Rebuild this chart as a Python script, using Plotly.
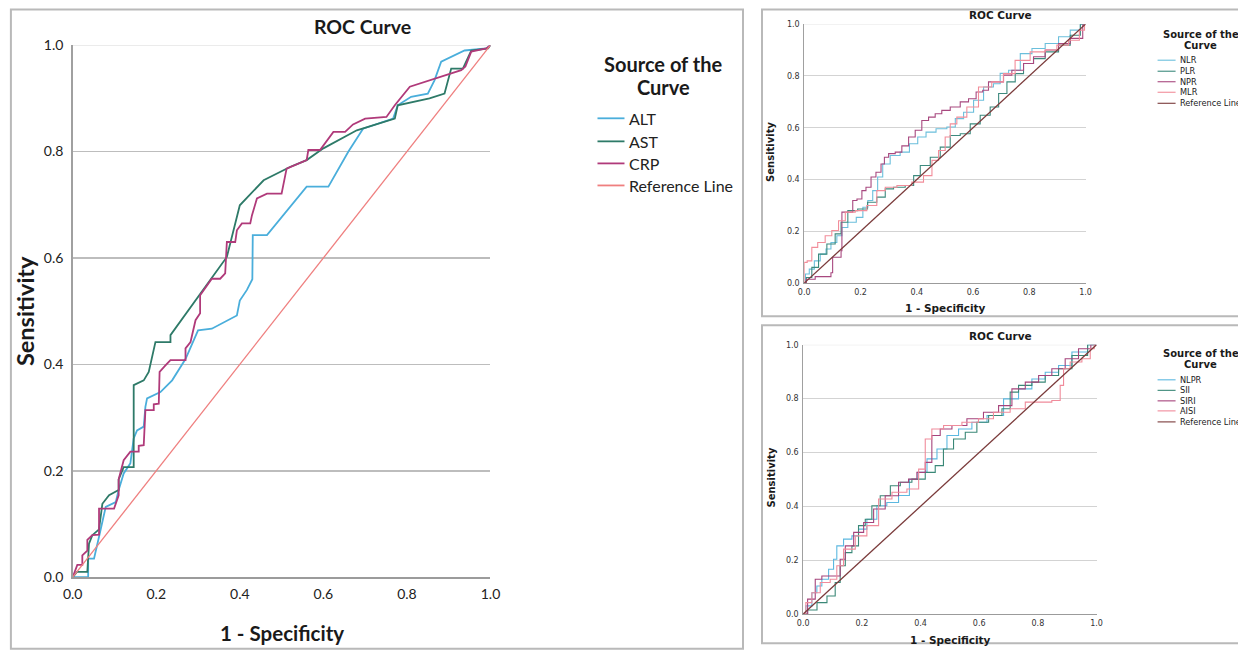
import plotly.graph_objects as go

W, H = 1238, 651

# ---------------- Panel A (left) ----------------
A_names = ["ALT", "AST", "CRP", "Reference Line"]
A_colors = ["#4aaedb", "#2e7a68", "#b03a7a", "#ef7f7f"]
ALT_x = [0, 0.037, 0.037, 0.051, 0.063, 0.071, 0.079, 0.103, 0.11, 0.122, 0.138, 0.146, 0.154, 0.17, 0.174, 0.178, 0.21, 0.238, 0.27, 0.30, 0.333, 0.393, 0.40, 0.417, 0.43, 0.431, 0.465, 0.56, 0.612, 0.66, 0.695, 0.767, 0.778, 0.81, 0.85, 0.866, 0.882, 0.938, 0.99, 1.0]
ALT_y = [0, 0, 0.035, 0.035, 0.076, 0.107, 0.132, 0.141, 0.164, 0.195, 0.214, 0.261, 0.276, 0.283, 0.32, 0.336, 0.348, 0.37, 0.41, 0.464, 0.467, 0.492, 0.52, 0.54, 0.56, 0.643, 0.643, 0.734, 0.734, 0.80, 0.843, 0.862, 0.887, 0.903, 0.909, 0.934, 0.969, 0.99, 0.994, 1.0]
AST_x = [0, 0.01, 0.035, 0.039, 0.047, 0.063, 0.071, 0.087, 0.11, 0.11, 0.122, 0.146, 0.146, 0.17, 0.182, 0.198, 0.234, 0.234, 0.369, 0.40, 0.457, 0.52, 0.56, 0.60, 0.68, 0.759, 0.771, 0.778, 0.854, 0.89, 0.906, 0.934, 0.954, 0.994, 1.0]
AST_y = [0, 0.01, 0.01, 0.063, 0.079, 0.09, 0.138, 0.154, 0.164, 0.184, 0.207, 0.207, 0.361, 0.37, 0.386, 0.442, 0.442, 0.455, 0.602, 0.699, 0.746, 0.771, 0.784, 0.806, 0.84, 0.859, 0.862, 0.887, 0.90, 0.909, 0.956, 0.956, 0.99, 0.994, 1.0]
CRP_x = [0, 0.011, 0.023, 0.023, 0.035, 0.035, 0.047, 0.063, 0.063, 0.099, 0.11, 0.11, 0.122, 0.138, 0.158, 0.158, 0.17, 0.174, 0.194, 0.194, 0.206, 0.208, 0.222, 0.234, 0.27, 0.27, 0.282, 0.294, 0.305, 0.305, 0.333, 0.353, 0.365, 0.369, 0.389, 0.393, 0.405, 0.425, 0.429, 0.441, 0.465, 0.50, 0.512, 0.56, 0.564, 0.592, 0.624, 0.652, 0.671, 0.70, 0.751, 0.771, 0.807, 0.894, 0.93, 0.94, 0.954, 0.99, 1.0]
CRP_y = [0, 0.023, 0.023, 0.041, 0.05, 0.07, 0.079, 0.08, 0.129, 0.129, 0.154, 0.184, 0.22, 0.236, 0.236, 0.247, 0.248, 0.314, 0.314, 0.325, 0.326, 0.386, 0.398, 0.408, 0.408, 0.43, 0.442, 0.483, 0.496, 0.53, 0.561, 0.561, 0.571, 0.63, 0.63, 0.652, 0.665, 0.665, 0.68, 0.712, 0.721, 0.721, 0.768, 0.784, 0.803, 0.803, 0.837, 0.837, 0.851, 0.862, 0.865, 0.887, 0.922, 0.944, 0.953, 0.96, 0.988, 0.994, 1.0]
REF_x = [0, 1]
REF_y = [0, 1]

# ---------------- Panel B (top right) ----------------
B_names = ["NLR", "PLR", "NPR", "MLR", "Reference Line"]
B_colors = ["#6bbfdc", "#3d8a7e", "#a8487f", "#f28d9a", "#7a3a3a"]
NLR_x = [0, 0.009, 0.027, 0.045, 0.069, 0.086, 0.104, 0.128, 0.14, 0.17, 0.2, 0.217, 0.235, 0.252, 0.27, 0.288, 0.323, 0.359, 0.389, 0.418, 0.448, 0.489, 0.525, 0.549, 0.584, 0.62, 0.655, 0.69, 0.703, 0.75, 0.786, 0.833, 0.88, 0.928, 0.963, 1.0]
NLR_y = [0, 0.035, 0.054, 0.086, 0.112, 0.132, 0.157, 0.183, 0.215, 0.235, 0.254, 0.293, 0.319, 0.357, 0.41, 0.46, 0.493, 0.506, 0.538, 0.564, 0.583, 0.596, 0.603, 0.635, 0.66, 0.706, 0.757, 0.77, 0.81, 0.822, 0.886, 0.906, 0.925, 0.951, 0.977, 1.0]
PLR_x = [0, 0.015, 0.039, 0.063, 0.098, 0.122, 0.14, 0.17, 0.21, 0.24, 0.276, 0.3, 0.335, 0.383, 0.395, 0.43, 0.466, 0.501, 0.537, 0.572, 0.608, 0.643, 0.679, 0.703, 0.738, 0.762, 0.797, 0.833, 0.88, 0.928, 0.963, 1.0]
PLR_y = [0, 0.022, 0.061, 0.112, 0.151, 0.19, 0.235, 0.28, 0.286, 0.312, 0.332, 0.364, 0.37, 0.377, 0.415, 0.454, 0.486, 0.525, 0.57, 0.577, 0.615, 0.648, 0.68, 0.732, 0.777, 0.809, 0.848, 0.867, 0.893, 0.919, 0.957, 1.0]
NPR_x = [0, 0.015, 0.033, 0.045, 0.092, 0.098, 0.104, 0.128, 0.134, 0.134, 0.17, 0.175, 0.2, 0.21, 0.229, 0.246, 0.264, 0.282, 0.288, 0.312, 0.335, 0.359, 0.383, 0.406, 0.43, 0.454, 0.477, 0.501, 0.537, 0.572, 0.596, 0.626, 0.643, 0.667, 0.703, 0.714, 0.762, 0.797, 0.833, 0.88, 0.928, 0.963, 0.987, 0.993, 1.0]
NPR_y = [0, 0.015, 0.015, 0.025, 0.025, 0.04, 0.10, 0.10, 0.125, 0.274, 0.274, 0.319, 0.325, 0.357, 0.37, 0.41, 0.428, 0.46, 0.486, 0.50, 0.506, 0.53, 0.564, 0.59, 0.628, 0.641, 0.654, 0.667, 0.68, 0.70, 0.712, 0.738, 0.745, 0.777, 0.777, 0.803, 0.822, 0.848, 0.874, 0.90, 0.925, 0.945, 0.945, 0.997, 1.0]
MLR_x = [0, 0, 0.021, 0.033, 0.063, 0.086, 0.11, 0.134, 0.158, 0.205, 0.24, 0.276, 0.3, 0.359, 0.406, 0.442, 0.466, 0.489, 0.513, 0.525, 0.56, 0.596, 0.643, 0.69, 0.726, 0.773, 0.833, 0.88, 0.916, 0.963, 0.993, 1.0]
MLR_y = [0, 0.08, 0.086, 0.138, 0.157, 0.183, 0.203, 0.241, 0.274, 0.28, 0.30, 0.357, 0.37, 0.377, 0.39, 0.415, 0.474, 0.512, 0.564, 0.615, 0.641, 0.68, 0.757, 0.777, 0.809, 0.86, 0.893, 0.9, 0.919, 0.938, 0.977, 1.0]

# ---------------- Panel C (bottom right) ----------------
C_names = ["NLPR", "SII", "SIRI", "AISI", "Reference Line"]
C_colors = ["#5cb8e0", "#3a8877", "#a5437b", "#f08b9b", "#7a3a3a"]
NLPR_x = [0, 0.018, 0.041, 0.052, 0.075, 0.098, 0.109, 0.12, 0.155, 0.177, 0.2, 0.234, 0.268, 0.302, 0.348, 0.376, 0.405, 0.439, 0.473, 0.507, 0.552, 0.598, 0.655, 0.711, 0.757, 0.802, 0.848, 0.893, 0.939, 1.0]
NLPR_y = [0, 0.03, 0.079, 0.104, 0.129, 0.166, 0.203, 0.253, 0.278, 0.29, 0.315, 0.352, 0.402, 0.414, 0.44, 0.50, 0.526, 0.576, 0.613, 0.663, 0.687, 0.712, 0.737, 0.799, 0.836, 0.873, 0.898, 0.923, 0.973, 1.0]
SII_x = [0, 0.03, 0.064, 0.098, 0.12, 0.132, 0.155, 0.177, 0.2, 0.223, 0.245, 0.28, 0.314, 0.348, 0.393, 0.439, 0.461, 0.495, 0.53, 0.575, 0.609, 0.655, 0.7, 0.711, 0.757, 0.802, 0.848, 0.893, 0.939, 1.0]
SII_y = [0, 0.015, 0.042, 0.067, 0.117, 0.179, 0.228, 0.253, 0.328, 0.352, 0.402, 0.439, 0.476, 0.489, 0.501, 0.526, 0.551, 0.613, 0.65, 0.675, 0.712, 0.737, 0.762, 0.824, 0.849, 0.861, 0.886, 0.911, 0.96, 1.0]
SIRI_x = [0, 0.03, 0.052, 0.075, 0.12, 0.132, 0.155, 0.189, 0.223, 0.257, 0.302, 0.348, 0.37, 0.405, 0.427, 0.45, 0.484, 0.53, 0.586, 0.643, 0.689, 0.734, 0.78, 0.825, 0.87, 0.916, 0.961, 1.0]
SIRI_y = [0, 0.055, 0.129, 0.141, 0.141, 0.203, 0.253, 0.303, 0.34, 0.39, 0.439, 0.489, 0.501, 0.526, 0.563, 0.663, 0.687, 0.70, 0.725, 0.749, 0.774, 0.836, 0.861, 0.886, 0.911, 0.948, 0.985, 1.0]
AISI_x = [0, 0.018, 0.041, 0.075, 0.109, 0.12, 0.155, 0.2, 0.234, 0.28, 0.325, 0.382, 0.405, 0.427, 0.45, 0.507, 0.575, 0.62, 0.677, 0.734, 0.78, 0.825, 0.87, 0.882, 0.893, 0.927, 0.973, 0.984, 1.0]
AISI_y = [0, 0.042, 0.079, 0.117, 0.129, 0.179, 0.241, 0.29, 0.328, 0.427, 0.452, 0.464, 0.538, 0.65, 0.687, 0.70, 0.712, 0.725, 0.749, 0.762, 0.787, 0.787, 0.793, 0.849, 0.911, 0.936, 0.948, 0.985, 1.0]

ticks = [0, 0.2, 0.4, 0.6, 0.8, 1.0]
tick_text = ["0.0", "0.2", "0.4", "0.6", "0.8", "1.0"]

BIG = "Lato, Liberation Sans, sans-serif"
SANS = "DejaVu Sans, Verdana, sans-serif"

# the photographed page is inset slightly; map target pixel positions into figure space
OX, SX, OY, SY = 9.6, 0.9837, 8.9, 0.972


def fx(p):
    return ((p - OX) / SX) / W


def fy(p):
    return 1 - ((p - OY) / SY) / H


fig = go.Figure()

panels = [
    dict(ax="", names=A_names, colors=A_colors,
         data=[(ALT_x, ALT_y), (AST_x, AST_y), (CRP_x, CRP_y), (REF_x, REF_y)],
         shape="linear", width=1.8),
    dict(ax="2", names=B_names, colors=B_colors,
         data=[(NLR_x, NLR_y), (PLR_x, PLR_y), (NPR_x, NPR_y), (MLR_x, MLR_y), (REF_x, REF_y)],
         shape="hvh", width=1.1),
    dict(ax="3", names=C_names, colors=C_colors,
         data=[(NLPR_x, NLPR_y), (SII_x, SII_y), (SIRI_x, SIRI_y), (AISI_x, AISI_y), (REF_x, REF_y)],
         shape="hvh", width=1.1),
]

for p in panels:
    n = len(p["names"])
    for i, (name, col, (xs, ys)) in enumerate(zip(p["names"], p["colors"], p["data"])):
        fig.add_trace(go.Scatter(
            x=xs, y=ys, mode="lines", name=name, showlegend=False,
            line=dict(color=col, width=p["width"] if i < n - 1 else 1.3,
                      shape=p["shape"] if i < n - 1 else "linear"),
            xaxis="x" + p["ax"], yaxis="y" + p["ax"], cliponaxis=False,
            hoverinfo="skip"))

# axis geometry (target pixels)
geo = {
    "": dict(x0=72.3, x1=490.0, y0=576.0, y1=45.0),
    "2": dict(x0=803.7, x1=1085.0, y0=282.5, y1=24.0),
    "3": dict(x0=802.7, x1=1096.0, y0=612.7, y1=344.0),
}

layout = dict(width=W, height=H, margin=dict(l=0, r=0, t=0, b=0),
              paper_bgcolor="white", plot_bgcolor="white", showlegend=False)

shapes = []
for key, g in geo.items():
    big = key == ""
    tf = dict(family=BIG if big else SANS, size=14 if big else 8, color="#222" if big else "#333")
    layout["xaxis" + key] = dict(
        domain=[fx(g["x0"]), fx(g["x1"])], range=[0, 1], anchor="y" + key,
        tickvals=ticks, ticktext=tick_text, showgrid=False, zeroline=False,
        showline=True, linecolor="#9b9b9b", linewidth=2 if big else 1.2,
        ticks="", tickfont=tf, ticklabelstandoff=3 if big else 1, fixedrange=True)
    layout["yaxis" + key] = dict(
        domain=[fy(g["y0"]), fy(g["y1"])], range=[0, 1], anchor="x" + key,
        tickvals=ticks, ticktext=tick_text, showgrid=True,
        gridcolor="#bdbdbd" if big else "#d3d3d3", gridwidth=1.5 if big else 1,
        zeroline=False, showline=True, linecolor="#a0a0a0", linewidth=1.5 if big else 1,
        ticks="", tickfont=tf, ticklabelstandoff=5 if big else 2, fixedrange=True)
    shapes.append(dict(type="line", xref="x" + key + " domain" if key else "x domain",
                       yref="y" + key, x0=0, x1=1, y0=1, y1=1, layer="below",
                       line=dict(color="#e4e4e4", width=1.5 if big else 1)))

annotations = []

# frames around each chart
for (x0, y0, x1, y1) in [(10.5, 9.5, 742.5, 647.5), (761.5, 9.5, 1260, 315.5), (761.5, 324.5, 1260, 642)]:
    shapes.append(dict(type="rect", xref="paper", yref="paper",
                       x0=fx(x0), x1=fx(x1), y0=fy(y1), y1=fy(y0),
                       line=dict(color="#b9b9b9", width=2), fillcolor="rgba(0,0,0,0)"))


def text(x, y, s, size, fam, bold=False, angle=0, xanchor="center", color="#1a1a1a"):
    annotations.append(dict(
        x=fx(x), y=fy(y), xref="paper", yref="paper", text=("<b>%s</b>" % s) if bold else s,
        showarrow=False, xanchor=xanchor, yanchor="middle", textangle=angle,
        font=dict(family=fam, size=size, color=color)))


# Panel A labels
text(362, 26, "ROC Curve", 19.5, BIG, bold=True)
text(24, 310, "Sensitivity", 23.5, BIG, bold=True, angle=-90)
text(282, 632, "1 - Specificity", 20.5, BIG, bold=True)
text(663, 64, "Source of the", 20, BIG, bold=True)
text(663, 87, "Curve", 20, BIG, bold=True)

# Panel B / C labels
for (ty, sy, xy, lty, xt) in [(15, 152, 307, 34, 945), (335, 477, 639, 353, 950)]:
    text(1000, ty, "ROC Curve", 10.5, SANS, bold=True)
    text(770, sy, "Sensitivity", 10, SANS, bold=True, angle=-90)
    text(xt, xy, "1 - Specificity", 10.5, SANS, bold=True)
    text(1200, lty, "Source of the", 10, SANS, bold=True)
    text(1200, lty + 11, "Curve", 10, SANS, bold=True)

# manual legends
legend_specs = [
    (A_names, A_colors, [118, 141, 163, 185], 597, 624, 627, 16, BIG, 1.8),
    (B_names, B_colors, [60, 71, 81.5, 92, 103], 1157, 1175, 1177, 8.2, SANS, 1.1),
    (C_names, C_colors, [379, 389.5, 400, 410, 421], 1157, 1175, 1177, 8.2, SANS, 1.1),
]
for names, cols, rows, lx0, lx1, tx, fs, fam, lw in legend_specs:
    for name, col, ry in zip(names, cols, rows):
        shapes.append(dict(type="line", xref="paper", yref="paper",
                           x0=fx(lx0), x1=fx(lx1), y0=fy(ry), y1=fy(ry),
                           line=dict(color=col, width=lw)))
        text(tx, ry, name, fs, fam, xanchor="left", color="#222")

layout["annotations"] = annotations
layout["shapes"] = shapes
fig.update_layout(**layout)
fig.write_html(
    "out.html",
    config={"displayModeBar": False, "staticPlot": True},
    post_script="document.body.style.margin='0';document.body.style.padding='0';"
                "document.documentElement.style.overflow='hidden';document.body.style.overflow='hidden';")
